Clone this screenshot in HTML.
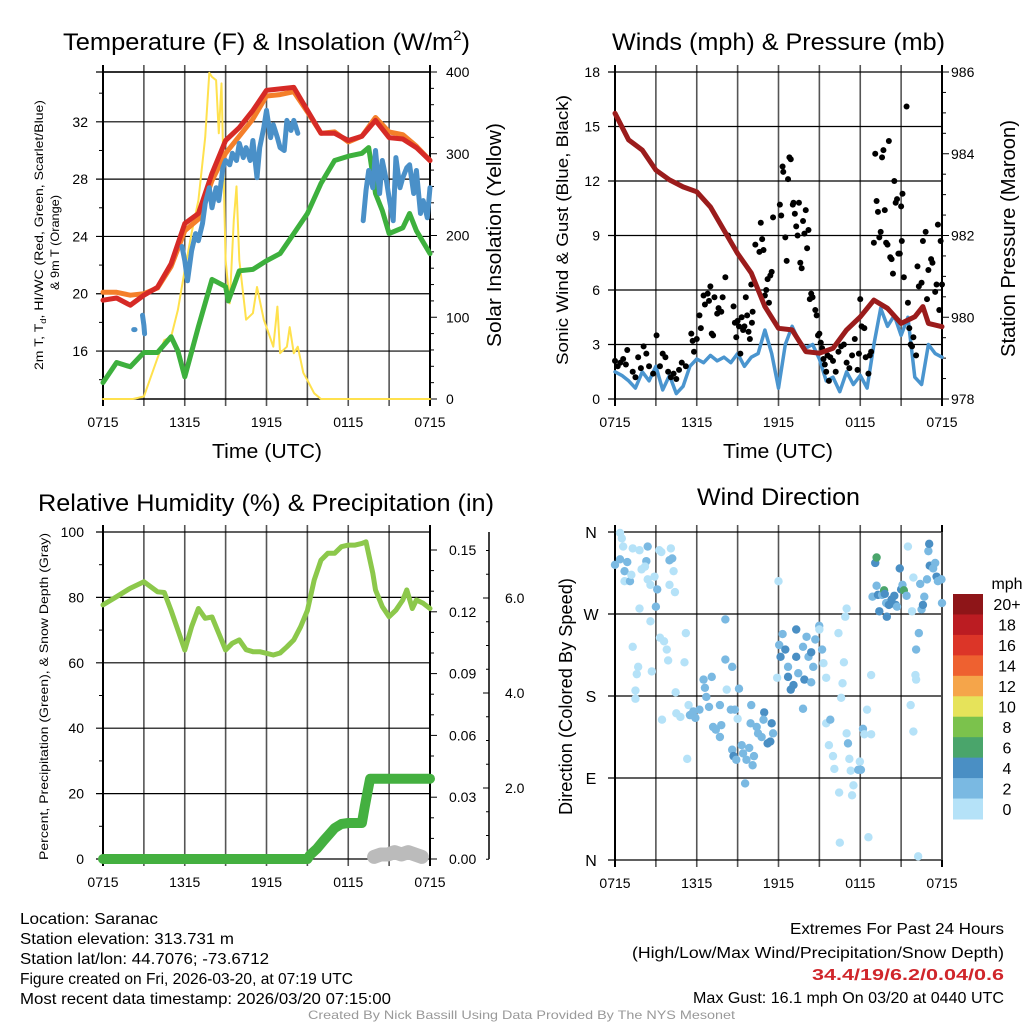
<!DOCTYPE html>
<html><head><meta charset="utf-8"><style>
html,body{margin:0;padding:0;background:#fff;}
svg{display:block;font-family:"Liberation Sans",sans-serif;}
</style></head><body>
<svg id="fig" xmlns="http://www.w3.org/2000/svg" width="1024" height="1024" viewBox="0 0 1024 1024">
<rect width="1024" height="1024" fill="#fff"/>
<text x="63" y="50" font-size="24" textLength="407" lengthAdjust="spacingAndGlyphs">Temperature (F) &amp; Insolation (W/m<tspan font-size="14" dy="-10">2</tspan><tspan dy="10">)</tspan></text>
<text x="612" y="50" font-size="24" textLength="333" lengthAdjust="spacingAndGlyphs">Winds (mph) &amp; Pressure (mb)</text>
<text x="38" y="511" font-size="24" textLength="456" lengthAdjust="spacingAndGlyphs">Relative Humidity (%) &amp; Precipitation (in)</text>
<text x="697" y="505" font-size="24" textLength="163" lengthAdjust="spacingAndGlyphs">Wind Direction</text>
<text x="212" y="458" font-size="20" textLength="110" lengthAdjust="spacingAndGlyphs">Time (UTC)</text>
<text x="723" y="458" font-size="20" textLength="110" lengthAdjust="spacingAndGlyphs">Time (UTC)</text>
<text transform="translate(501,347) rotate(-90)" font-size="20" textLength="224" lengthAdjust="spacingAndGlyphs">Solar Insolation (Yellow)</text>
<text transform="translate(1015,357) rotate(-90)" font-size="20" textLength="237" lengthAdjust="spacingAndGlyphs">Station Pressure (Maroon)</text>
<text transform="translate(568,365) rotate(-90)" font-size="17" textLength="270" lengthAdjust="spacingAndGlyphs">Sonic Wind &amp; Gust (Blue, Black)</text>
<text transform="translate(572,815) rotate(-90)" font-size="18" textLength="237" lengthAdjust="spacingAndGlyphs">Direction (Colored By Speed)</text>
<text transform="translate(43,370) rotate(-90)" font-size="12" textLength="270" lengthAdjust="spacingAndGlyphs">2m T, T<tspan font-size="8" dy="3">d</tspan><tspan dy="-3">, HI/WC (Red, Green, Scarlet/Blue)</tspan></text>
<text transform="translate(59,290) rotate(-90)" font-size="12" textLength="95" lengthAdjust="spacingAndGlyphs">&amp; 9m T (Orange)</text>
<text transform="translate(48,860) rotate(-90)" font-size="12" textLength="327" lengthAdjust="spacingAndGlyphs">Percent, Precipitation (Green), &amp; Snow Depth (Gray)</text>
<g font-size="16">
<text x="20" y="924" textLength="138" lengthAdjust="spacingAndGlyphs">Location: Saranac</text>
<text x="20" y="944" textLength="214" lengthAdjust="spacingAndGlyphs">Station elevation: 313.731 m</text>
<text x="20" y="964" textLength="249" lengthAdjust="spacingAndGlyphs">Station lat/lon: 44.7076; -73.6712</text>
<text x="20" y="984" textLength="333" lengthAdjust="spacingAndGlyphs">Figure created on Fri, 2026-03-20, at 07:19 UTC</text>
<text x="20" y="1004" textLength="371" lengthAdjust="spacingAndGlyphs">Most recent data timestamp: 2026/03/20 07:15:00</text>
</g>
<g font-size="16" text-anchor="end">
<text x="1004" y="934" textLength="214" lengthAdjust="spacingAndGlyphs">Extremes For Past 24 Hours</text>
<text x="1004" y="958" textLength="372" lengthAdjust="spacingAndGlyphs">(High/Low/Max Wind/Precipitation/Snow Depth)</text>
<text x="1004" y="980" textLength="192" lengthAdjust="spacingAndGlyphs" fill="#d0262b" font-weight="bold">34.4/19/6.2/0.04/0.6</text>
<text x="1004" y="1003" textLength="311" lengthAdjust="spacingAndGlyphs">Max Gust: 16.1 mph On 03/20 at 0440 UTC</text>
</g>
<text x="308" y="1019" font-size="12" fill="#999" textLength="427" lengthAdjust="spacingAndGlyphs">Created By Nick Bassill Using Data Provided By The NYS Mesonet</text>
<g id="p1"></g>
<g id="p2"></g>
<g id="p3"></g>
<g id="p4"></g>
</svg>
<script>
const timeTicks = ["0715","1315","1915","0115","0715"];
const hourly = [0,1,2,3,4,5,6,7,8,9,10,11,12,13,14,15,16,17,18,19,20,21,22,23,24];
const tempRed = [19.55,19.7,19.2,19.9,20.45,22.1,24.9,25.6,28.4,30.7,31.6,32.8,34.2,34.3,34.4,32.8,31.2,31.2,30.7,31.0,32.1,30.9,30.8,30.2,29.3];
const tempOrange = [20.1,20.1,19.9,20.0,20.4,21.9,24.4,25.2,27.9,29.8,31.0,32.2,33.8,33.9,34.1,32.7,31.2,31.3,30.6,31.0,32.3,31.3,31.1,30.3,29.3];
const dewHours = [0,1,2,3,4,5,5.5,6,7,8,9,9.2,10,11,12,13,14,15,16,17,18,19,19.5,20,20.5,21,22,22.5,23,24];
const dewGreen = [13.8,15.2,14.9,15.9,15.9,17.0,16.0,14.2,17.7,21.0,20.5,19.5,21.6,21.7,22.3,22.8,24.2,25.6,27.7,29.3,29.6,29.8,30.2,27.0,25.8,24.2,24.6,25.6,24.4,22.8];
const hiwcHours = [2.25,2.35,2.6,2.9,3.0,3.05,5.5,5.8,6.0,6.2,6.5,6.8,7.0,7.3,7.5,7.8,8.0,8.3,8.5,8.8,9.0,9.3,9.5,9.8,10.0,10.3,10.5,10.8,11.0,11.3,11.5,11.8,12.0,12.3,12.5,12.8,13.0,13.3,13.5,13.8,14.0,14.3,16,19.1,19.3,19.5,19.8,20.0,20.3,20.5,20.8,21.0,21.3,21.5,21.8,22.0,22.3,22.5,22.8,23.0,23.3,23.5,23.8,24.0];
const hiwcBlue = [17.5,17.5,null,18.5,17.8,17.2,null,23.3,22.3,20.9,23.0,24.2,23.7,24.9,26.3,27.4,26.0,27.4,26.5,28.8,29.3,29.0,29.8,29.3,30.5,29.5,30.2,29.3,30.7,28.1,30.2,31.6,32.8,30.9,31.8,30.9,30.2,30.0,32.1,31.4,32.1,31.2,null,25.1,27.2,28.6,27.4,30.0,27.0,29.3,27.9,26.7,25.1,29.5,27.4,28.1,28.8,29.0,27.0,28.6,25.6,26.5,25.3,27.4];
const solarHours = [0,2.2,3,4,4.5,5,5.5,6,6.5,7,7.5,7.8,8,8.3,8.5,8.7,9,9.3,9.6,9.8,10,10.5,11,11.3,11.8,12,12.5,12.8,13,13.5,13.7,14,14.3,14.7,15,15.5,16,24];
const solarYellow = [0,0,3,50,72,76,109,158,203,243,320,399,394,390,325,386,170,117,219,260,170,97,105,137,97,88,64,113,56,64,88,56,64,32,23,7,0,0];
const pressHours = [0,1,2,3,4,5,6,7,8,9,10,11,12,13,14,15,16,17,18,19,20,21,22,22.6,23,24];
const pressure = [984.99,984.34,984.09,983.60,983.36,983.19,983.07,982.70,982.13,981.56,981.08,980.26,979.73,979.69,979.16,979.12,979.24,979.69,980.01,980.42,980.22,979.85,980.01,980.26,979.85,979.77];
const windHours = [0,0.5,1,1.5,2,2.5,3,3.5,4,4.5,5,5.5,6,6.5,7,7.5,8,8.5,9,9.5,10,10.5,11,11.5,12,12.5,13,13.5,14,14.5,15,15.5,16,16.5,17,17.5,18,18.5,19,19.5,20,20.5,21,21.5,22,22.5,23,23.5,24];
const windSonic = [1.5,1.3,1.0,0.6,1.5,1.0,1.8,0.5,1.3,0.3,0.7,1.8,2.2,2.0,2.4,2.1,2.3,2.0,2.5,1.8,2.3,2.5,3.8,2.5,0.6,3.0,4.0,3.2,2.8,3.0,2.2,1.0,1.2,0.4,1.5,0.8,1.3,0.6,3.0,5.0,4.0,4.6,3.5,4.5,1.2,0.8,3.0,2.5,2.3];
const gustHours = [0,0.2,0.4,0.6,0.8,0.9,1.3,1.5,1.7,1.9,2.1,2.3,2.5,2.8,3.05,3.3,3.5,3.7,3.9,4.1,4.3,4.5,4.7,4.9,5.2,5.6,5.7,5.8,6.0,6.2,6.3,6.5,6.6,6.8,6.9,7.0,7.1,7.2,7.3,7.5,7.6,7.8,7.9,8.1,8.3,8.7,8.8,8.9,9.0,9.1,9.2,9.3,9.4,9.5,9.6,9.7,9.8,9.9,10.0,10.05,10.1,10.3,10.6,10.7,10.8,10.9,11.0,11.1,11.2,11.3,11.4,11.5,11.6,12.1,12.2,12.3,12.35,12.5,12.6,12.7,12.8,12.9,13.05,13.1,13.2,13.3,13.4,13.5,13.6,13.7,13.8,13.9,14.0,14.1,14.2,14.3,14.4,14.5,14.7,14.8,14.9,15.0,15.1,15.2,15.3,15.4,15.5,15.6,15.7,15.8,16.0,16.2,16.4,16.6,16.8,17.0,17.2,17.4,17.6,17.8,17.9,18.0,18.1,18.3,18.4,18.6,18.7,18.8,19.0,19.1,19.2,19.3,19.4,19.5,19.6,19.7,19.8,19.9,20.0,20.1,20.2,20.3,20.4,20.5,20.6,20.7,20.8,20.9,21.0,21.05,21.1,21.2,21.4,21.5,21.6,21.7,21.8,21.9,22.1,22.2,22.3,22.5,22.6,22.8,22.9,23.0,23.2,23.3,23.5,23.6,23.7,23.8,23.9,24.0];
const gustValues = [2.1,1.8,2.0,2.2,1.9,2.7,1.5,1.2,2.3,1.7,2.9,2.5,1.8,1.4,3.5,1.8,2.5,2.3,1.5,1.2,1.4,1.1,1.6,2.0,1.8,3.6,3.2,2.6,3.3,4.6,3.9,5.7,5.2,5.8,5.4,6.2,3.6,3.5,5.6,4.7,5.0,4.8,5.6,6.7,9.0,5.1,4.2,3.4,4.3,4.0,2.5,4.5,3.8,4.0,5.6,4.6,3.7,3.3,6.3,4.2,4.8,8.5,8.1,9.7,8.8,8.2,5.7,6.0,6.6,5.3,6.8,7.0,10.0,10.7,10.1,12.8,12.5,8.9,7.6,12.1,13.3,13.2,10.7,10.8,10.2,9.5,9.0,10.8,7.5,7.2,9.8,9.1,10.4,8.3,9.3,5.5,5.8,5.6,4.9,4.6,3.5,3.6,3.1,2.8,2.2,1.9,1.5,2.4,1.0,2.3,2.1,1.5,2.6,2.9,3.0,2.0,1.7,2.4,3.3,1.6,2.5,5.5,4.0,3.9,2.3,1.4,2.4,2.6,8.6,13.5,10.9,10.3,8.9,9.2,13.3,13.7,10.4,8.6,8.5,14.2,7.8,7.7,6.9,12.0,10.8,11.0,8.0,8.0,10.6,8.7,11.3,6.7,16.1,5.3,3.9,3.0,2.9,3.4,2.4,7.3,6.2,6.4,8.7,9.2,5.5,7.1,7.7,7.5,5.9,6.3,9.6,4.9,8.7,6.3];
const rhHours = [0,1,2,3,4,4.5,5,5.5,6,6.5,7,7.5,8,8.5,9,9.5,10,10.5,11,11.5,12,12.5,13,13.5,14,14.5,15,15.5,16,16.5,17,17.5,18,18.5,19,19.3,19.8,20,20.5,21,21.5,22,22.3,22.7,23,23.5,24];
const rhValues = [77.7,80.2,82.8,84.8,81.7,81.5,76,70,63.9,71,76.6,73.6,74,69,63.9,66,67,64,63.4,63.4,62.9,62.4,63,64.9,67,71,76,85.3,91.4,93.5,93.5,95.5,96,96,96.5,97,87.4,82.3,77.2,74.1,76.1,79.2,82.3,76.6,79.2,78.2,76.6];
const precipHours = [0,15,15.2,15.7,16.2,16.6,17,17.5,18,19,19.2,19.4,19.6,24];
const precipValues = [0,0,0.002,0.005,0.009,0.012,0.015,0.017,0.0175,0.0175,0.025,0.032,0.039,0.039];
const snowHours = [19.9,20.4,20.9,21.4,21.9,22.4,22.9,23.4];
const snowValues = [0.55,0.6,0.6,0.65,0.6,0.65,0.6,0.55];
const dirHours = [0,0.37,0.5,0.37,0.6,0.7,0.9,0.7,1.1,1.2,1.3,1.8,1.95,2.3,2.4,2.2,2.4,2.6,2.9,3.1,3.0,1.8,2.6,3.25,3.4,4.1,4.0,4.2,4.3,4.0,4.4,1.3,1.7,1.6,1.5,1.5,2.7,3.3,3.6,3.8,3.9,3.45,4.45,5.2,5.1,5.3,4.5,4.8,5.4,5.5,5.75,5.9,6.2,6.5,6.6,6.7,7.1,6.9,7.2,7.4,7.7,7.8,7.7,8.1,8.1,8.2,8.5,8.6,8.8,9.1,8.6,8.7,8.9,9.3,9.4,9.85,9.65,10.1,10.2,9.55,10.0,9.95,10.4,10.5,10.76,10.95,10.9,11.2,11.4,11.5,11.6,9.0,12.0,11.9,12.05,12.15,12.3,12.5,12.7,12.7,12.9,13.1,13.3,13.3,13.45,13.8,13.9,14.06,14.2,14.4,14.55,14.4,14.7,14.99,15.2,15.0,15.3,15.5,13.8,15.5,15.8,15.7,16.0,16.1,16.4,16.45,16.5,16.6,16.7,16.8,16.9,17.0,17.0,17.1,17.2,17.3,17.4,17.5,17.85,17.97,18.05,18.2,18.3,18.6,18.5,18.8,18.8,18.9,19.1,19.2,19.2,19.3,19.4,19.6,19.75,19.8,19.9,19.95,20.1,20.3,20.5,20.6,20.7,20.9,21.0,21.1,21.2,21.4,21.5,21.8,21.9,22.1,22.1,22.3,22.4,22.5,22.6,22.7,22.9,23.0,23.06,23.1,23.35,23.5,23.6,23.7,23.96,24.0,21.7,21.9,22.25,22.05];
const dirDegrees = [324,359,353,330,344,317,327,306,306,313,342,340,319,328,344,322,308,302,311,297,278,276,262,340,338,342,329,331,317,302,294,234,212,204,186,177,207,244,240,231,219,154,184,249,217,111,161,157,170,159,163,156,165,198,189,179,201,168,146,143,135,148,170,220,264,187,165,212,165,188,121,114,110,126,117,123,110,104,114,84,170,150,146,139,135,162,154,128,130,150,139,155,306,200,236,223,248,231,212,201,187,192,253,223,205,234,198,245,223,228,212,195,242,257,231,253,216,200,166,150,154,126,114,100,249,74,19,178,194,217,267,276,139,128,111,98,71,82,99,108,99,144,138,25,165,138,203,289,326,332,301,291,273,291,296,292,282,267,280,286,290,280,278,320,297,302,296,290,344,273,310,231,198,249,303,275,280,289,308,339,347,323,320,326,311,306,308,282,170,141,4,203];
const dirSpeedBin = [1,0,0,1,0,1,1,0,1,0,0,0,0,1,1,0,0,0,0,1,1,0,0,0,0,0,1,1,0,0,0,0,0,0,0,0,0,0,0,0,0,0,0,0,0,0,0,0,0,1,1,1,1,1,1,1,1,1,1,1,1,1,1,1,1,0,1,1,1,1,1,2,1,1,1,1,1,1,1,1,1,1,1,1,1,2,1,2,2,2,1,0,0,0,1,2,1,2,1,2,2,2,2,2,1,1,2,1,1,2,1,1,1,1,1,0,0,0,1,0,1,0,0,0,0,0,0,0,0,0,0,0,0,1,0,0,0,0,1,0,1,1,0,0,0,0,0,1,2,3,1,2,2,1,3,2,1,2,2,2,2,2,1,2,2,1,3,1,0,0,0,1,0,1,1,1,2,1,1,1,2,2,1,1,2,1,1,1,0,0,0];
const colorbarLabels = ["20+","18","16","14","12","10","8","6","4","2","0"];
const NS="http://www.w3.org/2000/svg";
const PLOT_W=327, PLOT_H=327;
const speedColors=["#b5e2f8","#7ab9e2","#4a8fc4","#4aa56b"];
function mk(tag,attrs,parent){const e=document.createElementNS(NS,tag);for(const k in attrs)e.setAttribute(k,attrs[k]);parent.appendChild(e);return e;}
function xScale(x0){return h=>x0+h*PLOT_W/24;}
function yScale(top,bot,vmin,vmax){return v=>bot-(v-vmin)*(bot-top)/(vmax-vmin);}
function pathD(hs,vs,xf,yf){let d="",pen=false;for(let i=0;i<hs.length;i++){const v=vs[i];if(v===null||v===undefined){pen=false;continue;}d+=(pen?"L":"M")+xf(hs[i]).toFixed(1)+" "+yf(v).toFixed(1)+" ";pen=true;}return d;}
function series(g,name,hs,vs,xf,yf,color,w){const p=mk("path",{d:pathD(hs,vs,xf,yf),fill:"none",stroke:color,"stroke-width":w,"stroke-linejoin":"round","stroke-linecap":"round"},g);


return p;}
function grid(g,x0,top,bot,hRows){
 const xf=xScale(x0);
 for(let i=0;i<=8;i++){const x=xf(i*3);const l=mk("line",{x1:x,x2:x,y1:top-7,y2:bot+7,stroke:(i===0||i===8)?"#000":"#555","stroke-width":(i===0||i===8)?2:1.6},g);
 
 }
 hRows.forEach(y=>{const l=mk("line",{x1:x0-7,x2:x0+PLOT_W,y1:y,y2:y,stroke:"#000","stroke-width":1.2},g);
 
 });
 timeTicks.forEach((t,i)=>{const tx=mk("text",{x:xf(i*6),y:bot+28,"font-size":14,"text-anchor":"middle"},g);tx.textContent=t;
 
 });
}
function label(g,x,y,txt,anchor,size,name){const t=mk("text",{x:x,y:y,"font-size":size||14,"text-anchor":anchor||"end"},g);t.textContent=txt;
 
 return t;}
function minorTicks(g,x,dir,ys,len){ys.forEach(y=>{const l=mk("line",{x1:x,x2:x+dir*len,y1:y,y2:y,stroke:"#000","stroke-width":1},g);
 
 });}

(function(){
 const g=document.getElementById("p1"),x0=103,top=72,bot=399;
 const xf=xScale(x0), yT=yScale(top,bot,12.6522,35.4783), yS=yScale(top,bot,0,400);
 const leftTicks=[16,20,24,28,32];
 grid(g,x0,top,bot,[top].concat(leftTicks.map(yT)));
 mk("line",{x1:x0+PLOT_W,x2:x0+PLOT_W,y1:top,y2:bot,stroke:"#000","stroke-width":2},g);
 mk("line",{x1:x0,x2:x0+PLOT_W,y1:top,y2:top,stroke:"#000","stroke-width":1.5},g);
 mk("line",{x1:x0,x2:x0+PLOT_W,y1:bot,y2:bot,stroke:"#000","stroke-width":1.5},g);
 leftTicks.forEach(v=>label(g,88,yT(v)+5,String(v),"end",14,"temp-y-tick-label"));
 const minL=[];for(let v=14;v<=34;v+=2)if(v%4)minL.push(yT(v));minorTicks(g,x0,-1,minL,4);
 const sTicks=[0,100,200,300,400];
 sTicks.forEach(v=>{label(g,446,yS(v)+5,String(v),"start",14,"solar-y-tick-label");minorTicks(g,x0+PLOT_W,1,[yS(v)],7);});
 const minR=[];for(let v=20;v<400;v+=20)if(v%100)minR.push(yS(v));minorTicks(g,x0+PLOT_W,1,minR,4);
 series(g,"solar-insolation-line",solarHours,solarYellow,xf,yS,"#ffe14d",2);
 series(g,"dewpoint-line",dewHours,dewGreen,xf,yT,"#3db03d",5);
 series(g,"9m-temp-line",hourly,tempOrange,xf,yT,"#f47f2a",5);
 series(g,"2m-temp-line",hourly,tempRed,xf,yT,"#d62a26",5);
 series(g,"heat-index-wind-chill-line",hiwcHours,hiwcBlue,xf,yT,"#4a90c8",5);
})();

(function(){
 const g=document.getElementById("p2"),x0=615,top=72,bot=399;
 const xf=xScale(x0), yW=yScale(top,bot,0,18), yP=yScale(top,bot,978,986);
 const wt=[0,3,6,9,12,15,18];
 grid(g,x0,top,bot,wt.map(yW));
 mk("line",{x1:x0+PLOT_W,x2:x0+PLOT_W,y1:top,y2:bot,stroke:"#000","stroke-width":2},g);
 wt.forEach(v=>label(g,600,yW(v)+5,String(v),"end",14,"wind-y-tick-label"));
 [978,980,982,984,986].forEach(v=>{label(g,951,yP(v)+5,String(v),"start",14,"pressure-y-tick-label");minorTicks(g,x0+PLOT_W,1,[yP(v)],7);});
 const minR=[];for(let v=978.5;v<986;v+=0.5)if(v%2)minR.push(yP(v));minorTicks(g,x0+PLOT_W,1,minR,4);
 series(g,"sonic-wind-line",windHours,windSonic,xf,yW,"#4a95cf",3.5);
 gustHours.forEach((h,i)=>{const c=mk("circle",{cx:xf(h),cy:yW(gustValues[i]),r:3,fill:"#000"},g);
 
 });
 series(g,"station-pressure-line",pressHours,pressure,xf,yP,"#9b1c1c",5);
})();

(function(){
 const g=document.getElementById("p3"),x0=103,top=532,bot=859;
 const xf=xScale(x0), yR=yScale(top,bot,0,100), yPr=yScale(top,bot,0,0.15874), ySn=v=>883-v*47.5;
 const lt=[0,20,40,60,80,100];
 grid(g,x0,top,bot,lt.map(yR));
 mk("line",{x1:x0+PLOT_W,x2:x0+PLOT_W,y1:top,y2:bot,stroke:"#000","stroke-width":2},g);
 lt.forEach(v=>label(g,84,yR(v)+5,String(v),"end",14,"percent-y-tick-label"));
 const minL=[];for(let v=10;v<100;v+=20)minL.push(yR(v));minorTicks(g,x0,-1,minL,4);
 ["0.00","0.03","0.06","0.09","0.12","0.15"].forEach(s=>{const v=parseFloat(s);label(g,449,yPr(v)+5,s,"start",14,"precip-y-tick-label");minorTicks(g,x0+PLOT_W,1,[yPr(v)],7);});
 const minR=[];for(let k=1;k<16;k++)if(k%3)minR.push(yPr(k*0.01));minorTicks(g,x0+PLOT_W,1,minR,4);
 mk("line",{x1:489,x2:489,y1:top,y2:bot,stroke:"#000","stroke-width":1.5},g);
 ["2.0","4.0","6.0"].forEach(s=>{const v=parseFloat(s);label(g,505,ySn(v)+5,s,"start",14,"snow-y-tick-label");minorTicks(g,489,-1,[ySn(v)],6);});
 const minS=[];for(let v=0.5;v<7.1;v+=0.5)if(v%2&&ySn(v)>top)minS.push(ySn(v));minorTicks(g,489,-1,minS,3);
 series(g,"snow-depth-line",snowHours,snowValues,xf,ySn,"#bbbbbb",14);
 series(g,"precipitation-line",precipHours,precipValues,xf,yPr,"#44b040",10);
 series(g,"relative-humidity-line",rhHours,rhValues,xf,yR,"#8cc84b",5);
})();

(function(){
 const g=document.getElementById("p4"),x0=615,top=532,bot=860;
 const xf=xScale(x0), yD=yScale(top,bot,0,360);
 const dirLabels=["N","E","S","W","N"];
 grid(g,x0,top,bot,[0,90,180,270,360].map(yD));
 mk("line",{x1:x0+PLOT_W,x2:x0+PLOT_W,y1:top,y2:bot,stroke:"#555","stroke-width":1.6},g);
 dirLabels.forEach((s,i)=>label(g,591,yD(i*90)+6,s,"middle",16,"direction-tick-label"));
 dirHours.forEach((h,i)=>{const col=speedColors[dirSpeedBin[i]]||speedColors[0];const c=mk("circle",{cx:xf(h),cy:yD(dirDegrees[i]),r:4.2,fill:col},g);
 
 });
 const cbColors=["#8e1518","#bb1c22","#dc3528","#ee6130","#f5a54a","#e6e35a","#7bc24c","#4aa56b","#4a8fc4","#7ab9e2","#b5e2f8"];
 const cb=mk("g",{},g);
 
 
 const bh=(819-594)/11;
 colorbarLabels.forEach((s,i)=>{const r=mk("rect",{x:953,y:594+i*bh,width:30,height:bh+0.5,fill:cbColors[i]},cb);
 
 
 label(cb,1007,594+i*bh+bh/2+6,s,"middle",16,"colorbar-label");});
 label(cb,1007,589,"mph","middle",16,"colorbar-unit");
})();
</script>
</body></html>
